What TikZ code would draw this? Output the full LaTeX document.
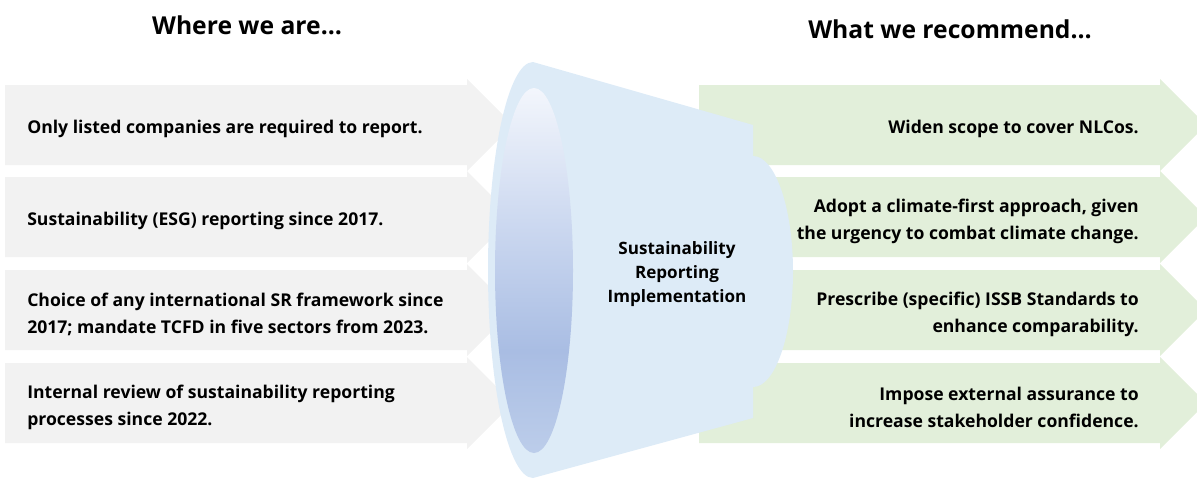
\documentclass[tikz,border=0pt]{standalone}
\usepackage{fontspec}
\setmainfont{Open Sans}

\definecolor{nowgrey}{HTML}{F2F2F2}
\definecolor{recgreen}{HTML}{E2EFDA}
\definecolor{funnelblue}{HTML}{DDEBF7}
\definecolor{lenstop}{HTML}{F3F6FC}
\definecolor{lensmid}{HTML}{C9D6EF}
\definecolor{lensdark}{HTML}{A9BDE3}
\definecolor{lensbot}{HTML}{BCCDEA}

% vertical fill of the funnel opening (25bp = bottom, 75bp = top)
\pgfdeclareverticalshading{lensfill}{100bp}{color(0bp)=(lensbot); color(25bp)=(lensbot);
  color(39bp)=(lensdark); color(55bp)=(lensmid); color(75bp)=(lenstop); color(100bp)=(lenstop)}

\begin{document}
\begin{tikzpicture}[x=0.75pt,y=0.75pt,
    title/.style={font=\bfseries\fontsize{18.5}{22}\selectfont},
    nowtext/.style={anchor=west, inner sep=0pt, align=left, font=\bfseries\fontsize{13.2}{20.2}\selectfont},
    rectext/.style={anchor=east, inner sep=0pt, align=right, font=\bfseries\fontsize{13.2}{20.2}\selectfont},
    coretext/.style={align=center, inner sep=0pt, font=\bfseries\fontsize{12.8}{18}\selectfont}]

  \useasboundingbox (0,0) rectangle (1197,-479);

  % headings
  \node[title] (where) at (247,-25) {Where we are\dots};
  \node[title] (what)  at (950,-29) {What we recommend\dots};

  % where we are: grey arrows
  \fill[nowgrey] (5,-85) -- (467,-85) -- (467,-79) -- (513,-125) -- (467,-171) -- (467,-165) -- (5,-165) -- cycle;
  \fill[nowgrey] (5,-177) -- (467,-177) -- (467,-171) -- (513,-217) -- (467,-263) -- (467,-257) -- (5,-257) -- cycle;
  \fill[nowgrey] (5,-270) -- (467,-270) -- (467,-264) -- (513,-310) -- (467,-356) -- (467,-350) -- (5,-350) -- cycle;
  \fill[nowgrey] (5,-363) -- (467,-363) -- (467,-357) -- (513,-403) -- (467,-449) -- (467,-443) -- (5,-443) -- cycle;

  % what we recommend: green arrows
  \fill[recgreen] (699,-85) -- (1160,-85) -- (1160,-79) -- (1206,-125) -- (1160,-171) -- (1160,-165) -- (699,-165) -- cycle;
  \fill[recgreen] (699,-177) -- (1160,-177) -- (1160,-171) -- (1206,-217) -- (1160,-263) -- (1160,-257) -- (699,-257) -- cycle;
  \fill[recgreen] (699,-270) -- (1160,-270) -- (1160,-264) -- (1206,-310) -- (1160,-356) -- (1160,-350) -- (699,-350) -- cycle;
  \fill[recgreen] (699,-363) -- (1160,-363) -- (1160,-357) -- (1206,-403) -- (1160,-449) -- (1160,-443) -- (699,-443) -- cycle;

  \node[nowtext] (now1) at (27,-129) {Only listed companies are required to report.};
  \node[nowtext] (now2) at (27,-221) {Sustainability (ESG) reporting since 2017.};
  \node[nowtext] (now3) at (27,-314) {Choice of any international SR framework since\\2017; mandate TCFD in five sectors from 2023.};
  \node[nowtext] (now4) at (27,-407) {Internal review of sustainability reporting\\processes since 2022.};

  \node[rectext] (rec1) at (1139,-129) {Widen scope to cover NLCos.};
  \node[rectext] (rec2) at (1139,-221) {Adopt a climate-first approach, given\\the urgency to combat climate change.};
  \node[rectext] (rec3) at (1139,-314) {Prescribe (specific) ISSB Standards to\\enhance comparability.};
  \node[rectext] (rec4) at (1139,-407) {Impose external assurance to\\increase stakeholder confidence.};

  % the funnel
  \fill[funnelblue] (533,-62) -- (753,-125) -- (753,-156)
    arc[start angle=90, end angle=-90, x radius=40, y radius=115.5]
    -- (753,-418) -- (533,-478)
    arc[start angle=270, end angle=90, x radius=45, y radius=208] -- cycle;
  \shade[shading=lensfill] (534,-270.5) ellipse[x radius=39, y radius=182.5];

  \node[coretext] (core) at (677,-274) {Sustainability\\Reporting\\Implementation};

\end{tikzpicture}
\end{document}
